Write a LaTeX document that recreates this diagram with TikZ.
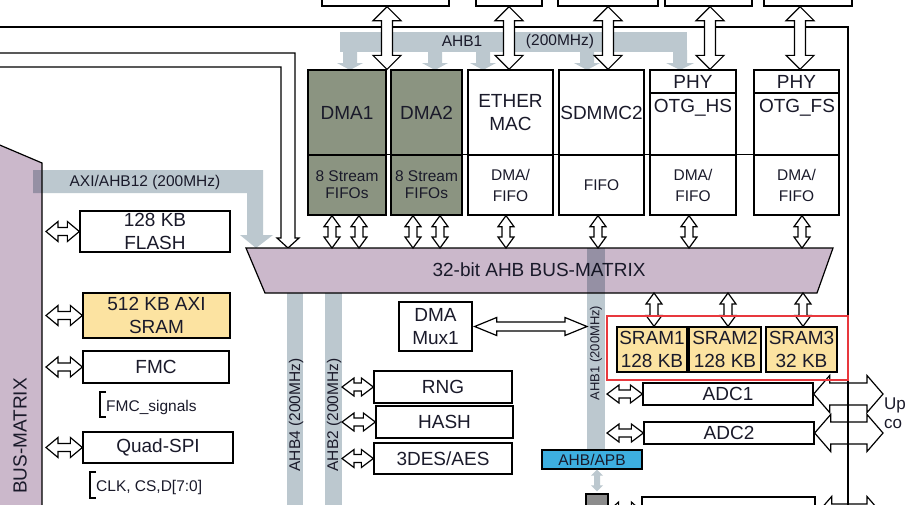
\documentclass[tikz,border=0pt]{standalone}
\usepackage{fontspec}
\setmainfont{Liberation Sans}
\usetikzlibrary{calc}
\definecolor{purp}{HTML}{CBB8CB}
\definecolor{bandg}{HTML}{BCC8CF}
\definecolor{dmag}{HTML}{8B9481}
\definecolor{sramy}{HTML}{FCE3A1}
\definecolor{apbb}{HTML}{3DAFE0}
\definecolor{redb}{HTML}{E8383D}
\definecolor{txt}{HTML}{1A1A2A}
\definecolor{gboxc}{HTML}{8C8C8C}
\newcommand\fmain{\fontsize{19}{23}\selectfont}
\newcommand\fsmall{\fontsize{15.5}{18}\selectfont}
\newcommand\fdf{\fontsize{15.5}{21}\selectfont}
\newcommand\fst{\fontsize{15.5}{17}\selectfont}
\newcommand\fup{\fontsize{17}{19}\selectfont}
\newcommand\fahb{\fontsize{13}{15}\selectfont}
\tikzset{
  box/.style={draw=black, line width=1.3pt, fill=white, inner sep=0pt, align=center, text=txt, font=\fmain},
  dbox/.style={box, fill=dmag},
  sbox/.style={box, fill=sramy},
  hol/.style={draw=black, line width=1.2pt, fill=white, line join=miter},
  garr/.style={fill=bandg, draw=none},
  band/.style={fill=bandg, blend mode=multiply},
  lbl/.style={inner sep=0pt, text=txt, font=\fsmall},
}
% box node: {style}{name}{x1}{y1}{x2}{y2}{text}
\newcommand\bx[7]{\node[#1, minimum width={(#5-#3)*1pt}, minimum height={(#6-#4)*1pt}] (#2) at ({(#3+#5)/2},{(#4+#6)/2}) {#7};}
% horizontal hollow double arrow: [style]{left}{right}{head length}{head half}{shaft half}
\newcommand\HArr[6][hol]{\path[#1] let \p1=#2, \p2=#3 in
  (\x1,\y1) -- (\x1+#4,\y1+#5) -- (\x1+#4,\y1+#6) -- (\x2-#4,\y1+#6) -- (\x2-#4,\y1+#5) -- (\x2,\y1)
  -- (\x2-#4,\y1-#5) -- (\x2-#4,\y1-#6) -- (\x1+#4,\y1-#6) -- (\x1+#4,\y1-#5) -- cycle;}
% vertical hollow double arrow: [style]{top}{bottom}{head length}{head half}{shaft half}
\newcommand\VArr[6][hol]{\path[#1] let \p1=#2, \p2=#3 in
  (\x1,\y1) -- (\x1+#5,\y1-#4) -- (\x1+#6,\y1-#4) -- (\x1+#6,\y2+#4) -- (\x1+#5,\y2+#4) -- (\x1,\y2)
  -- (\x1-#5,\y2+#4) -- (\x1-#6,\y2+#4) -- (\x1-#6,\y1-#4) -- (\x1-#5,\y1-#4) -- cycle;}
\begin{document}
\begin{tikzpicture}[x=1pt,y=-1pt]
\useasboundingbox (0,0) rectangle (905,504);
\fill[white] (0,0) rectangle (905,504);
% AXI bus matrix (left)
\filldraw[fill=purp, draw=black, line width=1.2pt] (-5,143) -- (42,163) -- (42,520) -- (-5,520) -- cycle;
\node[rotate=90, anchor=east, inner sep=0pt, font=\fmain, text=txt] (axibm) at (20,378) {BUS-MATRIX};
% AXI/AHB12 band
\path[band] (33,170) -- (263,170) -- (263,235) -- (273,235) -- (256,248) -- (240,235) -- (247,235) -- (247,193) -- (33,193) -- cycle;
\node[lbl] (axil) at (145,182) {AXI/AHB12 (200MHz)};
% white arrow from the left
\filldraw[hol] (-5,53) -- (295,53) -- (295,238) -- (299,238) -- (288,248) -- (277,238) -- (281,238) -- (281,67) -- (-5,67) -- cycle;
% frame top
\draw[line width=2.5pt] (-5,27) -- (848,27) -- (848,520);
% top outside boxes
\bx{box}{tb1}{322}{-20}{449}{6}{}
\bx{box}{tb2}{476}{-20}{542}{6}{}
\bx{box}{tb3}{558}{-20}{658}{6}{}
\bx{box}{tb4}{665}{-20}{752}{6}{}
\bx{box}{tb5}{764}{-20}{852}{6}{}
% AHB1 band top
\fill[bandg] (340,32) rectangle (687,52);
\foreach \sx in {350,435,483,587} {
  \fill[bandg] (\sx-7,50) -- (\sx+7,50) -- (\sx+7,63) -- (\sx+13,63) -- (\sx,70) -- (\sx-13,63) -- (\sx-7,63) -- cycle;}
\fill[bandg] (673,50) -- (687,50) -- (687,63) -- (694,63) -- (680,70) -- (666,63) -- (673,63) -- cycle;
\node[lbl] (ahb1a) at (462,41) {AHB1};
\node[lbl] (ahb1b) at (560,41) {(200MHz)};
% peripheral column
\bx{dbox}{dma1}{308}{70}{386}{155}{DMA1}
\bx{dbox, font=\fst}{dma1f}{308}{155}{386}{215}{8 Stream\\FIFOs}
\bx{dbox}{dma2}{391}{70}{462}{155}{DMA2}
\bx{dbox, font=\fst}{dma2f}{391}{155}{462}{215}{8 Stream\\FIFOs}
\bx{box}{eth}{468}{70}{553}{155}{ETHER\\MAC}
\bx{box, font=\fdf}{ethf}{468}{155}{553}{215}{DMA/\\FIFO}
\bx{box}{sd}{559}{70}{644}{155}{SDMMC2}
\bx{box, font=\fdf}{sdf}{559}{155}{644}{215}{FIFO}
\bx{box}{phyhs}{650}{70}{736}{93}{PHY}
\bx{box}{otghs}{650}{93}{736}{155}{}
\node[inner sep=0pt, text=txt, font=\fmain] (otghsT) at (693,108) {OTG\_HS};
\bx{box, font=\fdf}{otghsf}{650}{155}{736}{215}{DMA/\\FIFO}
\bx{box}{phyfs}{754}{70}{839}{93}{PHY}
\bx{box}{otgfs}{754}{93}{839}{155}{}
\node[inner sep=0pt, text=txt, font=\fmain] (otgfsT) at (797,108) {OTG\_FS};
\bx{box, font=\fdf}{otgfsf}{754}{155}{839}{215}{DMA/\\FIFO}
\draw[line width=1.3pt] (dma1f.north west) -- (otgfsf.north east);
% big top arrows
\VArr{(387,0 |- tb1.south)}{(387,0 |- dma1.north)}{14pt}{14pt}{5.5pt}
\VArr{(tb2.south)}{(tb2.south |- eth.north)}{14pt}{14pt}{5.5pt}
\VArr{(tb3.south)}{(tb3.south |- sd.north)}{14pt}{14pt}{5.5pt}
\VArr{(710,0 |- tb4.south)}{(710,0 |- phyhs.north)}{14pt}{14pt}{5.5pt}
\VArr{(800,0 |- tb5.south)}{(800,0 |- phyfs.north)}{14pt}{14pt}{5.5pt}
% AHB bus matrix
\coordinate (mT) at (0,248);
\coordinate (mB) at (0,293);
\filldraw[fill=purp, draw=black, line width=1.2pt] (246,248) -- (833,248) -- (817,293) -- (265,293) -- cycle;
\node[font=\fmain, text=txt, inner sep=0pt] (bm) at (539,270) {32-bit AHB BUS-MATRIX};
\VArr{(332,0 |- dma1f.south)}{(332,0 |- mT)}{11pt}{8pt}{4pt}
\VArr{(359,0 |- dma1f.south)}{(359,0 |- mT)}{11pt}{8pt}{4pt}
\VArr{(413,0 |- dma2f.south)}{(413,0 |- mT)}{11pt}{8pt}{4pt}
\VArr{(440,0 |- dma2f.south)}{(440,0 |- mT)}{11pt}{8pt}{4pt}
\VArr{(506,0 |- ethf.south)}{(506,0 |- mT)}{11pt}{8pt}{4pt}
\VArr{(598,0 |- sdf.south)}{(598,0 |- mT)}{11pt}{8pt}{4pt}
\VArr{(689,0 |- otghsf.south)}{(689,0 |- mT)}{11pt}{8pt}{4pt}
\VArr{(802,0 |- otgfsf.south)}{(802,0 |- mT)}{11pt}{8pt}{4pt}
% vertical bands
\path[band] (287,293) rectangle (303,520);
\path[band] (325,293) rectangle (342,520);
\path[band] (587,248) rectangle (605,450);
\node[lbl, rotate=90] (ahb4t) at (296,415) {AHB4 (200MHz)};
\node[lbl, rotate=90] (ahb2t) at (334,415) {AHB2 (200MHz)};
\node[lbl, rotate=90, font=\fahb] (ahb1t) at (596,353) {AHB1 (200MHz)};
% left column
\coordinate (axiR) at (46,0);
\bx{box}{flash}{80}{211}{230}{252}{128 KB\\FLASH}
\bx{sbox}{axisram}{83}{293}{230}{338}{512 KB AXI\\SRAM}
\bx{box}{fmc}{83}{351}{229}{383}{FMC}
\bx{box}{qspi}{83}{432}{233}{463}{Quad-SPI}
\HArr{(axiR |- flash.west)}{(flash.west)}{12pt}{10pt}{4pt}
\HArr{(axiR |- axisram.west)}{(axisram.west)}{12pt}{10pt}{4pt}
\HArr{(axiR |- fmc.west)}{(fmc.west)}{12pt}{10pt}{4pt}
\HArr{(axiR |- qspi.west)}{(qspi.west)}{12pt}{10pt}{4pt}
\draw[line width=1.2pt] (106,392) -- (100,392) -- (100,417) -- (106,417);
\node[lbl, anchor=west] (fmcsig) at (106,407) {FMC\_signals};
\draw[line width=1.2pt] (96,472) -- (90,472) -- (90,498) -- (96,498);
\node[lbl, anchor=west] (qsig) at (96,487) {CLK, CS,D[7:0]};
% middle
\bx{box}{mux}{399}{302}{472}{351}{DMA\\Mux1}
\HArr{($(mux.east)+(2,0)$)}{(587,0 |- mux.east)}{22pt}{9pt}{4.5pt}
\bx{box}{rng}{374}{371}{512}{403}{RNG}
\bx{box}{hash}{376}{406}{513}{438}{HASH}
\bx{box}{des}{374}{443}{512}{474}{3DES/AES}
\coordinate (ahb2R) at (342,0);
\HArr{(ahb2R |- rng.west)}{(rng.west)}{12pt}{9pt}{4pt}
\HArr{(ahb2R |- hash.west)}{(hash.west)}{12pt}{9pt}{4pt}
\HArr{(ahb2R |- des.west)}{(des.west)}{12pt}{9pt}{4pt}
% SRAMs
\bx{sbox}{s1}{617}{327}{687}{372}{SRAM1\\128 KB}
\bx{sbox}{s2}{689}{327}{761}{372}{SRAM2\\128 KB}
\bx{sbox}{s3}{766}{327}{837}{372}{SRAM3\\32 KB}
\VArr{(654,0 |- mB)}{(654,0 |- s1.north)}{11pt}{8pt}{4pt}
\VArr{(728,0 |- mB)}{(728,0 |- s2.north)}{11pt}{8pt}{4pt}
\VArr{(803,0 |- mB)}{(803,0 |- s3.north)}{11pt}{8pt}{4pt}
% ADCs
\bx{box}{adc1}{643}{383}{813}{405}{ADC1}
\bx{box}{adc2}{644}{422}{814}{444}{ADC2}
\coordinate (ahb1R) at (607,0);
\HArr{(ahb1R |- adc1.west)}{(adc1.west)}{12pt}{9pt}{4pt}
\HArr{(ahb1R |- adc2.west)}{(adc2.west)}{12pt}{9pt}{4pt}
\coordinate (extR) at (883,0);
\HArr{(adc1.east)}{(extR |- adc1.east)}{16pt}{18.5pt}{11pt}
\HArr{(adc2.east)}{(extR |- adc2.east)}{16pt}{18.5pt}{11pt}
\node[inner sep=0pt, anchor=base west, font=\fup, text=txt] (up) at (884,409) {Up};
\node[inner sep=0pt, anchor=base west, font=\fup, text=txt] (com) at (884,428) {co};
% bottom
\bx{box, font=\fsmall, fill=apbb}{apb}{542}{450}{642}{469}{AHB/APB}
\bx{draw=black, fill=gboxc, line width=1.2pt, inner sep=0pt}{gb}{586}{494}{608}{536}{}
\VArr[garr]{(gb.north |- apb.south)}{($(gb.north)+(0,-2)$)}{6pt}{6pt}{3pt}
\bx{box}{tim}{642}{497}{815}{533}{}
\HArr{($(gb.east)+(0,-4)$)}{($(tim.west)+(0,-4)$)}{10pt}{9pt}{4pt}
\HArr{(tim.east)}{(extR |- tim.east)}{16pt}{18.5pt}{11pt}
% frame right edge over arrows
\draw[line width=2.5pt] (848,27) -- (848,520);
% highlight
\draw[redb, line width=2pt] (607,316) rectangle (848,380);
\end{tikzpicture}
\end{document}
